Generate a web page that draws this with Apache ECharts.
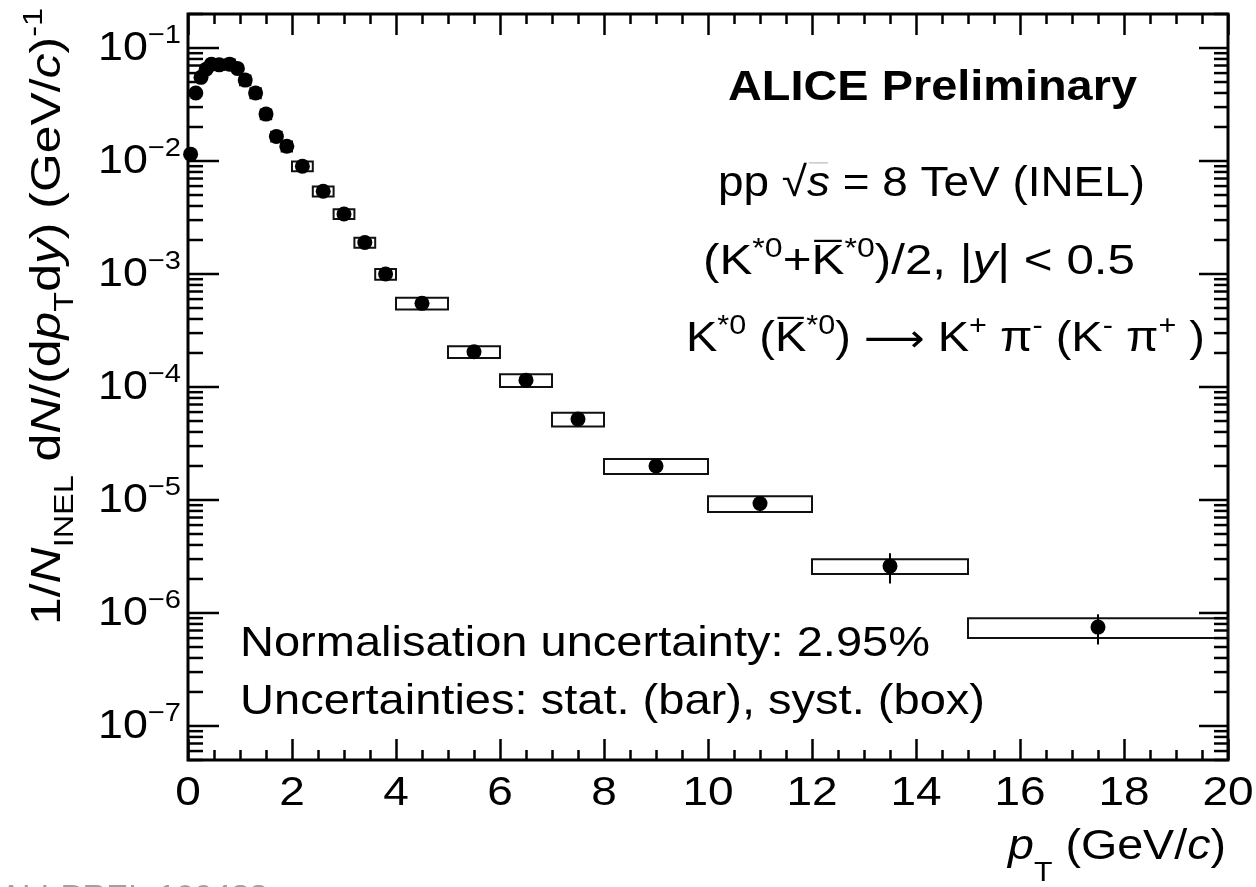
<!DOCTYPE html>
<html>
<head>
<meta charset="utf-8">
<script src="https://cdn.jsdelivr.net/npm/echarts@6/dist/echarts.min.js"></script>
<style>
  html, body { margin: 0; padding: 0; background: #fff; }
  #chart { width: 1256px; height: 887px; }
</style>
</head>
<body>
<div id="chart"></div>
<script>
// K*0 transverse-momentum spectrum, pp at 8 TeV (INEL)
const ptCenter = [0.05, 0.15, 0.25, 0.35, 0.45, 0.6, 0.8, 0.95, 1.1, 1.3, 1.5, 1.7, 1.9,
                  2.2, 2.6, 3.0, 3.4, 3.8, 4.5, 5.5, 6.5, 7.5, 9, 11, 13.5, 17.5];
const ptLow    = [0.0, 0.1, 0.2, 0.3, 0.4, 0.5, 0.7, 0.9, 1.0, 1.2, 1.4, 1.6, 1.8,
                  2.0, 2.4, 2.8, 3.2, 3.6, 4, 5, 6, 7, 8, 10, 12, 15];
const ptHigh   = [0.1, 0.2, 0.3, 0.4, 0.5, 0.7, 0.9, 1.0, 1.2, 1.4, 1.6, 1.8, 2.0,
                  2.4, 2.8, 3.2, 3.6, 4.0, 5, 6, 7, 8, 10, 12, 15, 20];
const yieldVal = [0.0115, 0.040, 0.055, 0.065, 0.072, 0.071, 0.072, 0.066, 0.052, 0.040, 0.026, 0.0165, 0.0135,
                  0.0090, 0.0054, 0.0034, 0.0019, 0.00100, 0.00055, 0.000205, 0.000115, 5.2e-5, 2.0e-5, 9.3e-6, 2.6e-6, 7.5e-7];
// relative uncertainties
const statRel  = [0.01, 0.01, 0.01, 0.01, 0.01, 0.01, 0.01, 0.01, 0.01, 0.01, 0.01, 0.01, 0.01,
                  0.01, 0.01, 0.01, 0.015, 0.02, 0.02, 0.03, 0.03, 0.04, 0.06, 0.15, 0.30, 0.30];
const systRel  = [0.10, 0.10, 0.10, 0.10, 0.10, 0.10, 0.10, 0.10, 0.10, 0.10, 0.10, 0.10, 0.10,
                  0.10, 0.10, 0.10, 0.10, 0.11, 0.12, 0.12, 0.13, 0.14, 0.15, 0.16, 0.15, 0.20];

// axes
const X_MIN = 0, X_MAX = 20, X_STEP = 2;
const Y_MIN = 5e-8, Y_MAX = 0.2;
const xTickValues = [0, 2, 4, 6, 8, 10, 12, 14, 16, 18, 20];
const xTickLabels = ['0', '2', '4', '6', '8', '10', '12', '14', '16', '18', '20'];
const yTickExponents = [-7, -6, -5, -4, -3, -2, -1];
const yTickBase = '10';
const yTickSup = ['\u22127', '\u22126', '\u22125', '\u22124', '\u22123', '\u22122', '\u22121'];

const FAMILY = '"Liberation Sans", Arial, Helvetica, sans-serif';
const mctx = document.createElement('canvas').getContext('2d');

// Lays out a list of text runs (with sub/superscripts, italics, overbars) on a common baseline.
function buildRuns(runs, F) {
  let x = 0;
  const children = [];
  runs.forEach(function (r) {
    const size = F * (r.s || 1);
    const style = r.i ? 'italic' : 'normal';
    const weight = r.b ? 'bold' : 'normal';
    const fam = r.f || FAMILY;
    mctx.font = style + ' ' + weight + ' ' + size + 'px ' + fam;
    const w = mctx.measureText(r.t).width;
    const base = (r.dy || 0) * F;
    children.push({
      type: 'text', x: x, y: base - 0.3465 * size,
      style: { text: r.t, fill: r.c || '#000', fontSize: size, fontFamily: fam,
               fontStyle: style, fontWeight: weight, align: 'left', verticalAlign: 'middle' }
    });
    if (r.over) {
      children.push({
        type: 'line',
        shape: { x1: x + w * 0.08, y1: base - 0.86 * size, x2: x + w * 0.92, y2: base - 0.86 * size },
        style: { stroke: r.overColor || '#000', lineWidth: r.overWidth || 2.2 }
      });
    }
    x += w;
  });
  return { children: children, width: x };
}

function textGroup(runs, F, o) {
  const L = buildRuns(runs, F);
  const sx = o.width ? o.width / L.width : (o.sx || 1);
  let off = 0;
  if (o.align === 'right') off = -L.width;
  else if (o.align === 'center') off = -L.width / 2;
  L.children.forEach(function (c) {
    if (c.type === 'text') c.x += off;
    else { c.shape.x1 += off; c.shape.x2 += off; }
  });
  return { type: 'group', x: o.x, y: o.y, scaleX: sx, rotation: o.rotation || 0, children: L.children };
}

const SUP = { s: 0.65, dy: -0.42 };
function sup(t) { return Object.assign({ t: t }, SUP); }

// annotation texts
const annotations = [
  { runs: [{ t: 'ALICE Preliminary', b: 1 }], F: 42, x: 728, y: 103, width: 409 },
  { runs: [{ t: 'pp ' }, { t: '\u221A' }, { t: 's', i: 1, over: 1, overColor: '#bbb', overWidth: 1.2 }, { t: ' = 8 TeV (INEL)' }],
    F: 42, x: 718, y: 199, width: 427 },
  { runs: [{ t: '(K' }, sup('*0'), { t: '+' }, { t: 'K', over: 1 }, sup('*0'), { t: ')/2, |' }, { t: 'y', i: 1 }, { t: '| < 0.5' }],
    F: 42, x: 703, y: 277, width: 432 },
  { runs: [{ t: 'K' }, sup('*0'), { t: ' (' }, { t: 'K', over: 1 }, sup('*0'), { t: ') ' },
           { t: '\u27F6', f: '"DejaVu Sans", ' + FAMILY, s: 0.9 }, { t: ' K' }, sup('+'),
           { t: ' \u03C0' }, sup('-'), { t: ' (K' }, sup('-'), { t: ' \u03C0' }, sup('+'), { t: ' )' }],
    F: 42, x: 686, y: 354, width: 519 },
  { runs: [{ t: 'Normalisation uncertainty: 2.95%' }], F: 42, x: 240, y: 659, width: 690 },
  { runs: [{ t: 'Uncertainties: stat. (bar), syst. (box)' }], F: 42, x: 240, y: 717, width: 745 }
];

const graphics = annotations.map(function (a) {
  return textGroup(a.runs, a.F, { x: a.x, y: a.y, width: a.width });
});

// y-axis title (rotated)
graphics.push(textGroup([
  { t: '1/' }, { t: 'N', i: 1 }, { t: 'INEL', s: 0.65, dy: 0.28 }, { t: ' d' }, { t: 'N', i: 1 }, { t: '/(d' },
  { t: 'p', i: 1 }, { t: 'T', s: 0.65, dy: 0.28 }, { t: 'd' }, { t: 'y', i: 1 }, { t: ') (GeV/' }, { t: 'c', i: 1 },
  { t: ')' }, { t: '-1', s: 0.65, dy: -0.45 }
], 42, { x: 63, y: 625, width: 617, rotation: Math.PI / 2 }));

// x-axis title
graphics.push(textGroup([
  { t: 'p', i: 1 }, { t: 'T', s: 0.65, dy: 0.5 }, { t: ' (GeV/' }, { t: 'c', i: 1 }, { t: ')' }
], 42, { x: 1226, y: 862, width: 218, align: 'right' }));

// figure identifier at the page bottom
graphics.push(textGroup([{ t: 'ALI-PREL-109488', c: '#a0a0a0' }], 30, { x: 0, y: 907, sx: 1.1 }));

// y tick marks: decades and 2..9 sub-divisions
const yTicks = [];
for (let e = -8; e <= -1; e++) {
  for (let m = 1; m <= 9; m++) {
    const v = m * Math.pow(10, e);
    if (v >= Y_MIN && v <= Y_MAX) yTicks.push([X_MIN, v, m === 1 ? 1 : 0]);
  }
}

const chart = echarts.init(document.getElementById('chart'), null, { renderer: 'canvas' });

function xAxisDef(pos) {
  return {
    type: 'value', position: pos, min: X_MIN, max: X_MAX, interval: X_STEP,
    axisLine: { show: false },
    axisTick: { show: true, inside: true, length: 21, lineStyle: { color: '#000', width: 2.5 } },
    minorTick: { show: true, splitNumber: 4, length: 10, lineStyle: { color: '#000', width: 2.5 } },
    axisLabel: { show: false }, splitLine: { show: false }, minorSplitLine: { show: false }
  };
}

const option = {
  animation: false,
  backgroundColor: '#fff',
  grid: { left: 188, right: 28, top: 14, bottom: 127, show: true, borderColor: '#000', borderWidth: 3,
          backgroundColor: 'transparent' },
  xAxis: [xAxisDef('bottom'), xAxisDef('top')],
  yAxis: [{
    type: 'log', logBase: 10, min: Y_MIN, max: Y_MAX,
    axisLine: { show: false }, axisTick: { show: false }, axisLabel: { show: false },
    splitLine: { show: false }, minorSplitLine: { show: false }
  }],
  graphic: graphics,
  series: [
    { // systematic boxes
      type: 'custom', xAxisIndex: 0, yAxisIndex: 0, z: 2,
      encode: { x: [0, 1], y: 2 },
      data: ptCenter.map(function (c, i) { return [ptLow[i], ptHigh[i], yieldVal[i], systRel[i]]; }),
      renderItem: function (params, api) {
        const y = api.value(2), s = api.value(3);
        const a = api.coord([api.value(0), y * (1 + s)]);
        const b = api.coord([api.value(1), y * (1 - s)]);
        return { type: 'rect', shape: { x: a[0], y: a[1], width: b[0] - a[0], height: b[1] - a[1] },
                 style: { fill: 'none', stroke: '#111', lineWidth: 2 } };
      }
    },
    { // statistical bars
      type: 'custom', xAxisIndex: 0, yAxisIndex: 0, z: 3,
      encode: { x: 0, y: 1 },
      data: ptCenter.map(function (c, i) { return [c, yieldVal[i], statRel[i]]; }),
      renderItem: function (params, api) {
        const y = api.value(1), s = api.value(2);
        const a = api.coord([api.value(0), y * (1 + s)]);
        const b = api.coord([api.value(0), y * (1 - s)]);
        return { type: 'line', shape: { x1: a[0], y1: a[1], x2: b[0], y2: b[1] },
                 style: { stroke: '#000', lineWidth: 2 } };
      }
    },
    { // data points
      type: 'scatter', xAxisIndex: 0, yAxisIndex: 0, z: 4,
      symbol: 'circle', symbolSize: 15, itemStyle: { color: '#000', opacity: 1 },
      data: ptCenter.map(function (c, i) { return [c, yieldVal[i]]; })
    },
    { // log-axis tick marks on left and right frame
      type: 'custom', xAxisIndex: 0, yAxisIndex: 0, z: 5, silent: true,
      encode: { x: 0, y: 1 },
      data: yTicks,
      renderItem: function (params, api) {
        const v = api.value(1), major = api.value(2) === 1;
        const l = api.coord([X_MIN, v]), r = api.coord([X_MAX, v]);
        const lenL = major ? 31 : 15, lenR = major ? 29 : 14;
        return { type: 'group', children: [
          { type: 'line', shape: { x1: l[0], y1: l[1], x2: l[0] + lenL, y2: l[1] }, style: { stroke: '#000', lineWidth: 2.5 } },
          { type: 'line', shape: { x1: r[0] - lenR, y1: r[1], x2: r[0], y2: r[1] }, style: { stroke: '#000', lineWidth: 2.5 } }
        ] };
      }
    },
    { // x tick labels
      type: 'custom', xAxisIndex: 0, yAxisIndex: 0, z: 5, silent: true, clip: false,
      encode: { x: 0, y: 1 },
      data: xTickValues.map(function (v) { return [v, Y_MIN]; }),
      renderItem: function (params, api) {
        const p = api.coord([api.value(0), api.value(1)]);
        return textGroup([{ t: xTickLabels[params.dataIndex] }], 40, { x: p[0], y: p[1] + 48, align: 'center', sx: 1.15 });
      }
    },
    { // y tick labels
      type: 'custom', xAxisIndex: 0, yAxisIndex: 0, z: 5, silent: true, clip: false,
      encode: { x: 0, y: 1 },
      data: yTickExponents.map(function (e) { return [X_MIN, Math.pow(10, e)]; }),
      renderItem: function (params, api) {
        const p = api.coord([api.value(0), api.value(1)]);
        return textGroup([{ t: yTickBase }, { t: yTickSup[params.dataIndex], s: 0.65, dy: -0.45 }], 40,
                         { x: p[0] - 7, y: p[1] + 14.5, align: 'right', sx: 1.12 });
      }
    }
  ]
};

chart.setOption(option);
</script>
</body>
</html>
